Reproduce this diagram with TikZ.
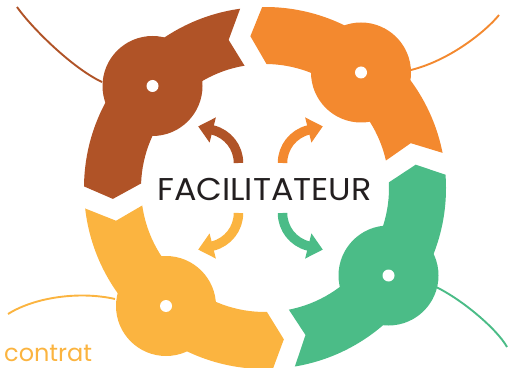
\documentclass[tikz,border=0pt]{standalone}
\usepackage{fontspec}
\setmainfont{Poppins}
\usetikzlibrary{arrows.meta}
\definecolor{brownC}{HTML}{B05327}
\definecolor{orangeC}{HTML}{F3892F}
\definecolor{yellowC}{HTML}{FBB440}
\definecolor{greenC}{HTML}{4BBC87}
\definecolor{textC}{HTML}{231F20}
\begin{document}
\begin{tikzpicture}[x=1pt,y=1pt,
  thread/.style={line width=1.9pt},
  turn/.style={line width=9.5pt,-{Triangle[length=15pt,width=25pt]}},
  hub/.style={radius=50pt},
  pin/.style={white,radius=6pt}]
\useasboundingbox (0,0) rectangle (508,367);
% knob centres
\coordinate (kB) at (152.5,281);
\coordinate (kO) at (361,294.5);
\coordinate (kY) at (166,61);
\coordinate (kG) at (388.5,91.5);
% thread ends
\coordinate (sB) at (102,285);
\coordinate (eB) at (17,360);
\coordinate (sO) at (411,297);
\coordinate (eO) at (499,352);
\coordinate (sY) at (115,68);
\coordinate (eY) at (8,53);
\coordinate (sG) at (436,80);
\coordinate (eG) at (507,20);
% threads
\draw[thread,brownC] (sB) .. controls (72,299) and (31,340) .. (eB);
\draw[thread,orangeC] (sO) .. controls (451,307) and (487,337) .. (eO);
\draw[thread,yellowC] (sY) .. controls (80,76) and (35,70) .. (eY);
\draw[thread,greenC] (sG) .. controls (462,67.5) and (497,38) .. (eG);
% ring segments
\begin{scope}[shift={(265,179)}]
\foreach \a/\b/\c in {7.7/94.4/orangeC, 94.4/183/brownC, 183/276/yellowC, 276/367.7/greenC}{
  \pgfmathsetmacro\so{\a+3.5}
  \pgfmathsetmacro\eo{\b-3.5}
  \pgfmathsetmacro\tp{\b+1.1}
  \pgfmathsetmacro\ei{\b-5.1}
  \pgfmathsetmacro\si{\a+5.1}
  \pgfmathsetmacro\vt{\a+9.4}
  \fill[\c] (\so:181) arc[start angle=\so, end angle=\eo, radius=181pt]
     -- (\tp:152.5) -- (\ei:124)
     arc[start angle=\ei, end angle=\si, radius=124pt]
     -- (\vt:152.5) -- cycle;
}
\end{scope}
% knobs
\foreach \p/\c in {kB/brownC, kO/orangeC, kY/yellowC, kG/greenC}{
  \fill[\c] (\p) circle[hub];
  \fill[pin] (\p) circle[pin];
}
% centre arrows
\coordinate (tB) at (238.5,204);
\coordinate (tO) at (282.5,204);
\coordinate (tY) at (238.5,154);
\coordinate (tG) at (282.5,154);
\draw[turn,brownC] (tB) arc[start angle=0, end angle=76, radius=34pt] -- ++(166:15);
\draw[turn,orangeC] (tO) arc[start angle=180, end angle=104, radius=34pt] -- ++(14:15);
\draw[turn,yellowC] (tY) arc[start angle=0, end angle=-76, radius=34pt] -- ++(194:15);
\draw[turn,greenC] (tG) arc[start angle=180, end angle=256, radius=34pt] -- ++(-14:15);
% texts
\node[font=\fontsize{31.5}{31.5}\selectfont, text=textC, inner sep=0] (fac) at (264.5,178) {\scalebox{1.06}[1]{FACILITATEUR}};
\node[anchor=base west, inner sep=0, font=\fontsize{24}{24}\selectfont, text=yellowC] (ct) at (4,6) {contrat};
\end{tikzpicture}
\end{document}
